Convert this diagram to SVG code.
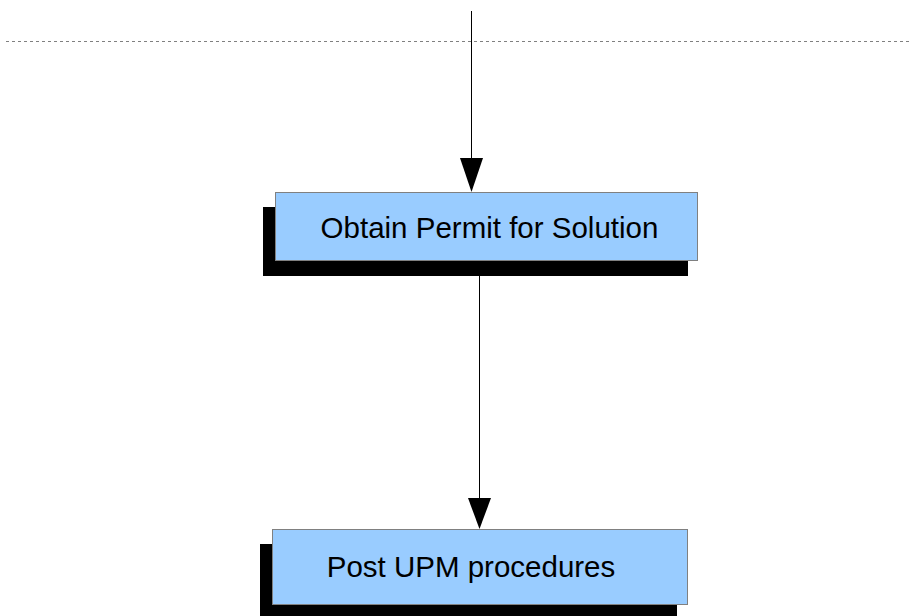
<svg xmlns="http://www.w3.org/2000/svg" width="909" height="616" viewBox="0 0 909 616">
  <style>
    .shadow { fill: #000000; }
    .box { fill: #99ccff; stroke: #808080; stroke-width: 1; }
    .label { font-family: "Liberation Sans", Arial, sans-serif; font-size: 29.5px; fill: #000000; }
    .edge { stroke: #000000; stroke-width: 1; fill: none; }
    .head { fill: #000000; }
    .divider { stroke: #808080; stroke-width: 1; stroke-dasharray: 3 3; fill: none; }
  </style>
  <rect width="909" height="616" fill="#ffffff"/>

  <!-- lane divider -->
  <line class="divider" x1="6" y1="41.5" x2="909" y2="41.5"/>

  <!-- connectors -->
  <g id="connectors">
    <line class="edge" x1="471.5" y1="11" x2="471.5" y2="160"/>
    <polygon class="head" points="460,158 483,158 471.5,192"/>
    <line class="edge" x1="479.5" y1="276" x2="479.5" y2="500"/>
    <polygon class="head" points="468,498 491,498 479.5,529"/>
  </g>

  <g id="obtain-permit">
    <rect class="shadow" x="263" y="207" width="425" height="69"/>
    <rect class="box" x="275.5" y="192.5" width="422" height="68"/>
    <text class="label" x="489.5" y="238" text-anchor="middle">Obtain Permit for Solution</text>
  </g>

  <g id="post-upm">
    <rect class="shadow" x="260" y="544" width="417" height="72"/>
    <rect class="box" x="272.5" y="529.5" width="415" height="75"/>
    <text class="label" x="471" y="577" text-anchor="middle">Post UPM procedures</text>
  </g>
</svg>
